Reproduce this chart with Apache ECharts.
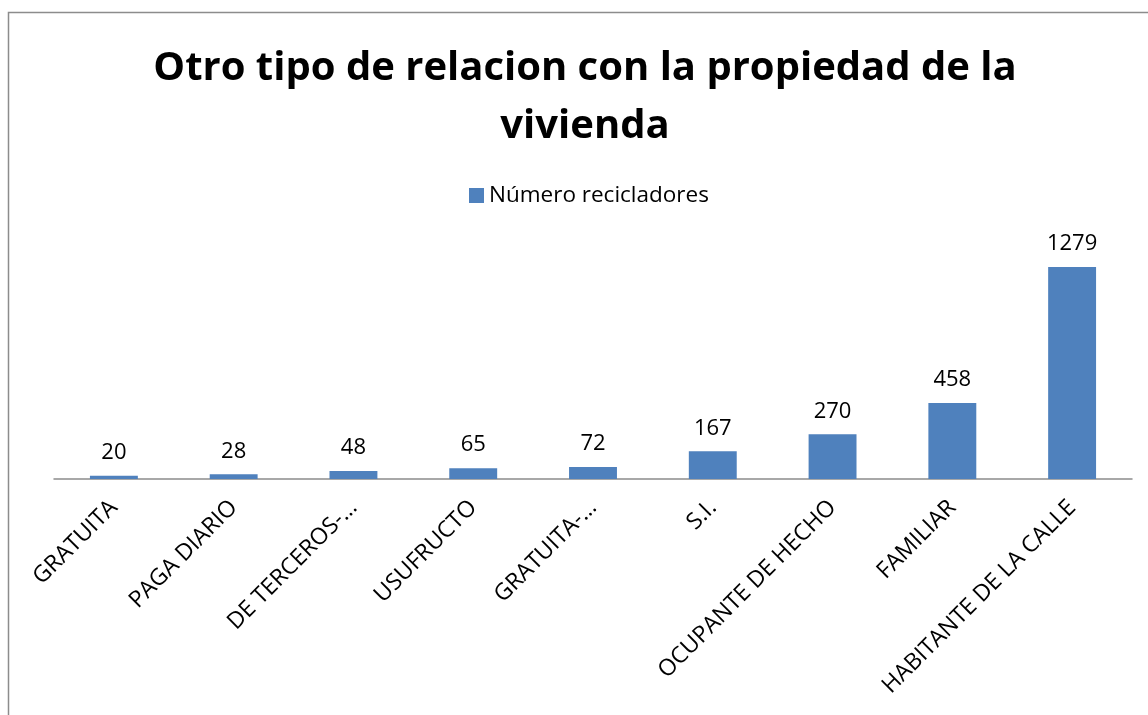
<!DOCTYPE html>
<html>
<head>
<meta charset="utf-8">
<script src="https://cdn.jsdelivr.net/npm/echarts@6/dist/echarts.min.js"></script>
<style>
html,body{margin:0;padding:0;background:#fff;}
#chart{width:1148px;height:715px;}
</style>
</head>
<body>
<div id="chart"></div>
<script>
var categories = ['GRATUITA', 'PAGA DIARIO', 'DE TERCEROS-…', 'USUFRUCTO', 'GRATUITA-…', 'S.I.', 'OCUPANTE DE HECHO', 'FAMILIAR', 'HABITANTE DE LA CALLE'];
var recicladores = [20, 28, 48, 65, 72, 167, 270, 458, 1279];

var myChart = echarts.init(document.getElementById('chart'));
var option = {
    backgroundColor: '#fff',
    textStyle: {fontFamily: 'Open Sans'},
    title: {
        text: 'Otro tipo de relacion con la propiedad de la\nvivienda',
        left: 580,
        top: 35,
        textAlign: 'center',
        textStyle: {
            fontFamily: 'Open Sans',
            fontWeight: 'bold',
            fontSize: 40,
            lineHeight: 58,
            color: '#000'
        }
    },
    graphic: [{
        type: 'rect',
        shape: {x: 8.5, y: 12.5, width: 1200, height: 800},
        style: {fill: 'none', stroke: '#8c8c8c', lineWidth: 1.5},
        silent: true
    }],
    legend: {
        top: 179,
        left: 464,
        itemWidth: 15,
        itemHeight: 15,
        icon: 'rect',
        itemGap: 8,
        textStyle: {fontSize: 22.5, color: '#000', fontFamily: 'Open Sans'},
        data: ['Número recicladores']
    },
    grid: {
        left: 54,
        width: 1078,
        top: 247,
        height: 232,
        containLabel: false
    },
    xAxis: {
        type: 'category',
        data: categories,
        axisLine: {lineStyle: {color: '#8c8c8c', width: 1.5}},
        axisTick: {show: false},
        axisLabel: {
            rotate: 45,
            interval: 0,
            fontSize: 23,
            color: '#000',
            margin: 25,
            fontFamily: 'Open Sans'
        }
    },
    yAxis: {
        type: 'value',
        min: 0,
        max: 1400,
        show: false,
        splitLine: {show: false}
    },
    series: [{
        name: 'Número recicladores',
        type: 'bar',
        data: recicladores,
        barWidth: '40%',
        itemStyle: {color: '#4f81bd'},
        label: {
            show: true,
            position: 'top',
            distance: 12,
            fontSize: 22,
            color: '#000',
            fontFamily: 'Open Sans'
        }
    }]
};
myChart.setOption(option, true);
</script>
</body>
</html>
